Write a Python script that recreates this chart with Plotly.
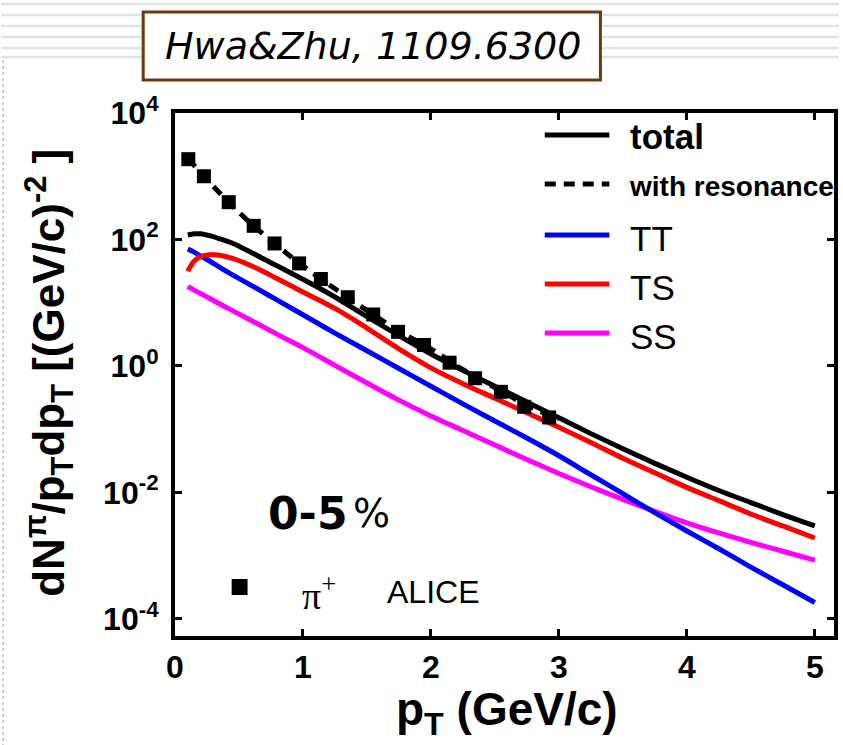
import numpy as np
import plotly.graph_objects as go

# ---------------- data (y values stored as log10) ----------------
pt = [0.1, 0.15, 0.2, 0.27, 0.35, 0.45, 0.6, 0.8, 1.0, 1.25, 1.5, 1.75, 2.0, 2.25,
      2.5, 2.75, 3.0, 3.25, 3.5, 3.75, 4.0, 4.25, 4.5, 4.75, 5.0]
total_log10 = [2.07, 2.09, 2.09, 2.06, 2.01, 1.94, 1.79, 1.58, 1.37, 1.09, 0.78, 0.48, 0.19,
               -0.07, -0.32, -0.57, -0.82, -1.07, -1.31, -1.54, -1.76, -1.97, -2.16, -2.35, -2.53]
tt_log10 = [1.85, 1.80, 1.74, 1.66, 1.56, 1.44, 1.27, 1.04, 0.81, 0.52, 0.24, -0.04, -0.32,
            -0.60, -0.87, -1.14, -1.42, -1.72, -2.02, -2.32, -2.61, -2.89, -3.18, -3.46, -3.74]
ts_log10 = [1.50, 1.66, 1.73, 1.76, 1.75, 1.70, 1.58, 1.38, 1.17, 0.91, 0.60, 0.27, -0.03,
            -0.28, -0.51, -0.74, -0.97, -1.21, -1.46, -1.69, -1.92, -2.13, -2.34, -2.53, -2.72]
ss_log10 = [1.26, 1.20, 1.145, 1.07, 0.98, 0.875, 0.715, 0.50, 0.29, 0.01, -0.27, -0.54, -0.79,
            -1.02, -1.25, -1.48, -1.70, -1.91, -2.11, -2.30, -2.48, -2.64, -2.79, -2.93, -3.07]

res_pt = [0.1, 0.2, 0.3, 0.4, 0.6, 0.8, 1.0, 1.25, 1.5, 1.75, 2.0, 2.25, 2.5, 2.75, 3.0]
res_log10 = [3.28, 3.06, 2.84, 2.63, 2.24, 1.90, 1.58, 1.22, 0.88, 0.55, 0.27, -0.06, -0.34,
             -0.62, -0.84]

alice_pt = [0.104, 0.226, 0.42, 0.615, 0.778, 0.97, 1.14, 1.35, 1.549, 1.743, 1.946, 2.146,
            2.345, 2.547, 2.729, 2.924]
alice_log10 = [3.27, 3.00, 2.59, 2.216, 1.937, 1.622, 1.375, 1.087, 0.814, 0.54, 0.331, 0.052,
               -0.194, -0.409, -0.646, -0.814]

y_tickvals = [1e-4, 1e-2, 1, 1e2, 1e4]
y_ticktext = ["10<sup>-4</sup>", "10<sup>-2</sup>", "10<sup>0</sup>", "10<sup>2</sup>", "10<sup>4</sup>"]
x_tickvals = [0, 1, 2, 3, 4, 5]

def lin(v):
    return (10.0 ** np.array(v)).tolist()

# ---------------- layout geometry (pixels) ----------------
WIDTH, HEIGHT = 843, 745
L, R, T, B = 175, 838, 113, 636
PW, PH = R - L, B - T

def px(x):
    return (x - L) / PW

def py(y):
    return (B - y) / PH

LW = 5
fig = go.Figure()

fig.add_trace(go.Scatter(x=pt, y=lin(ss_log10), mode="lines", name="SS",
                         line=dict(color="#FF00FF", width=LW, shape="spline", smoothing=1.0)))
fig.add_trace(go.Scatter(x=pt, y=lin(tt_log10), mode="lines", name="TT",
                         line=dict(color="#0000FF", width=LW, shape="spline", smoothing=1.0)))
fig.add_trace(go.Scatter(x=pt, y=lin(ts_log10), mode="lines", name="TS",
                         line=dict(color="#FF0000", width=LW, shape="spline", smoothing=1.0)))
fig.add_trace(go.Scatter(x=pt, y=lin(total_log10), mode="lines", name="total",
                         line=dict(color="black", width=LW, shape="spline", smoothing=1.0)))
fig.add_trace(go.Scatter(x=res_pt, y=lin(res_log10), mode="lines", name="with resonance",
                         line=dict(color="black", width=LW, dash="11px,8px", shape="spline")))
fig.add_trace(go.Scatter(x=alice_pt, y=lin(alice_log10), mode="markers", name="ALICE",
                         marker=dict(symbol="square", size=14, color="black")))

shapes = []
# faint background stripes (slide background)
for sy in [4, 15, 26, 37, 48, 57]:
    shapes.append(dict(type="line", xref="paper", yref="paper", layer="below",
                       x0=px(0), x1=px(WIDTH), y0=py(sy), y1=py(sy),
                       line=dict(color="#e2e2e2", width=2.5)))
shapes.append(dict(type="line", xref="paper", yref="paper", layer="below",
                   x0=px(2), x1=px(2), y0=py(60), y1=py(745),
                   line=dict(color="#d0d0d0", width=2, dash="dot")))
# title box
shapes.append(dict(type="rect", xref="paper", yref="paper", layer="above",
                   x0=px(143), x1=px(603), y0=py(80), y1=py(12),
                   line=dict(color="#6B3A0E", width=3), fillcolor="white"))

# legend samples
leg_y = [135, 184, 235, 284, 333]
leg_col = ["black", "black", "#0000FF", "#FF0000", "#FF00FF"]
leg_dash = ["solid", "11px,8px", "solid", "solid", "solid"]
for yy, cc, dd in zip(leg_y, leg_col, leg_dash):
    shapes.append(dict(type="line", xref="paper", yref="paper",
                       x0=px(547), x1=px(612), y0=py(yy), y1=py(yy),
                       line=dict(color=cc, width=LW, dash=dd)))
# ALICE marker sample
shapes.append(dict(type="rect", xref="paper", yref="paper",
                   x0=px(232), x1=px(248), y0=py(595), y1=py(579),
                   line=dict(width=0), fillcolor="black"))

ann = []
def A(text, x, y, size, family="Liberation Sans, Arial", color="black", xa="left",
      ya="middle", angle=0):
    ann.append(dict(text=text, x=px(x), y=py(y), xref="paper", yref="paper",
                    xanchor=xa, yanchor=ya, showarrow=False, textangle=angle,
                    font=dict(size=size, family=family, color=color)))

A("<i>Hwa&amp;Zhu, 1109.6300</i>", 374, 46, 38, family="DejaVu Sans", xa="center")
A("<b>total</b>", 631, 136, 35)
A("<b>with resonance</b>", 630, 186, 28)
A("TT", 631, 238, 35)
A("TS", 631, 287, 35)
A("SS", 631, 336, 35)
A("<b>0-5</b>", 267, 513, 44, family="DejaVu Sans")
A("%", 352, 513, 39, family="DejaVu Sans")
A("π<sup>+</sup>", 301, 593, 38, family="Liberation Serif, Times New Roman")
A("ALICE", 386, 592, 32)
A("<b>p<sub>T</sub> (GeV/c)</b>", 509, 712, 46, xa="center")
A("<b>dN<sup>π</sup>/p<sub>T</sub>dp<sub>T</sub> [(GeV/c)<sup>-2</sup> ]</b>", 48, 373, 44,
  xa="center", angle=-90)

fig.update_layout(
    width=WIDTH, height=HEIGHT,
    margin=dict(l=L, r=WIDTH - R, t=T, b=HEIGHT - B),
    paper_bgcolor="white", plot_bgcolor="white",
    showlegend=False,
    shapes=shapes, annotations=ann,
    font=dict(family="Liberation Sans, Arial", color="black"),
)
fig.update_xaxes(range=[0, 5.15], tickvals=x_tickvals, showgrid=False, zeroline=False,
                 showline=True, linewidth=4, linecolor="black", mirror="ticks",
                 ticks="inside", ticklen=7, tickwidth=3, tickcolor="black",
                 tickfont=dict(size=32, family="Liberation Sans, Arial", weight="bold"),
                 ticklabelstandoff=0)
fig.update_yaxes(type="log", range=[-4.27, 4.0], tickvals=y_tickvals, ticktext=y_ticktext,
                 showgrid=False, zeroline=False,
                 showline=True, linewidth=4, linecolor="black", mirror="ticks",
                 ticks="inside", ticklen=7, tickwidth=3, tickcolor="black",
                 tickfont=dict(size=32, family="Liberation Sans, Arial", weight="bold"),
                 ticklabelstandoff=6)

fig.write_html("out.html")
